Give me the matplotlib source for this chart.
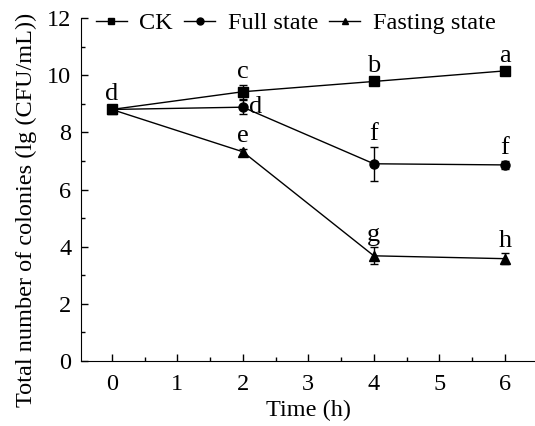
import numpy as np
import matplotlib
matplotlib.use("Agg")
import matplotlib.pyplot as plt
from matplotlib.ticker import MultipleLocator
from matplotlib.lines import Line2D

plt.rcParams['font.family'] = ['Liberation Serif', 'DejaVu Serif']
plt.rcParams['mathtext.fontset'] = 'stix'

time = [0, 2, 4, 6]
ck = [8.8, 9.42, 9.78, 10.15]
ck_err = [0.12, 0.25, 0.12, 0.08]
full = [8.8, 8.88, 6.9, 6.86]
full_err = [0.12, 0.25, 0.6, 0.15]
fast = [8.8, 7.32, 3.68, 3.58]
fast_err = [0.12, 0.1, 0.3, 0.2]

ck_labels = ['d', 'c', 'b', 'a']
full_labels = ['', 'd', 'f', 'f']
fast_labels = ['', 'e', 'g', 'h']

fig = plt.figure(figsize=(5.35, 4.26), dpi=100)
ax = fig.add_axes([81/535, 1-361/426, 454/535, 343/426])

kw = dict(color='black', lw=1.0, capsize=3, elinewidth=1.0, capthick=1.0, markersize=6.5)
ax.errorbar(time, ck, yerr=ck_err, marker='s', **kw)
ax.errorbar(time, full, yerr=full_err, marker='o', **kw)
ax.errorbar(time, fast, yerr=fast_err, marker='^', **kw)

fs = 17.5
lfs = 19
for x, y, e, t in zip(time, ck, ck_err, ck_labels):
    ax.text(x, y + e + 0.05, t, ha='center', va='bottom', fontsize=lfs)
for x, y, e, t in zip(time, full, full_err, full_labels):
    if not t:
        continue
    if x == 2:
        ax.text(x + 0.1, y + 0.0, t, ha='left', va='center', fontsize=lfs)
    else:
        ax.text(x, y + e + 0.05, t, ha='center', va='bottom', fontsize=lfs)
for x, y, e, t in zip(time, fast, fast_err, fast_labels):
    if t:
        ax.text(x, y + e + 0.05, t, ha='center', va='bottom', fontsize=lfs)

ax.set_xlim(-0.47, 6.46)
ax.set_ylim(0, 12)
ax.xaxis.set_major_locator(MultipleLocator(1))
ax.xaxis.set_minor_locator(MultipleLocator(0.5))
ax.yaxis.set_major_locator(MultipleLocator(2))
ax.yaxis.set_minor_locator(MultipleLocator(1))
ax.tick_params(which='both', direction='in', labelsize=fs, width=1.0)
ax.tick_params(which='major', length=5)
ax.tick_params(which='minor', length=3)
ax.tick_params(axis='x', pad=9)
ax.tick_params(axis='y', pad=7)
ax.spines['top'].set_visible(False)
ax.spines['right'].set_visible(False)
ax.set_xlabel('Time (h)', fontsize=fs, labelpad=4)
ax.set_ylabel('Total number of colonies (lg (CFU/mL))', fontsize=fs)
ax.yaxis.set_label_coords(-0.097, 0.44)

handles = [Line2D([], [], color='black', lw=1.0, marker=m, markersize=5) for m in ['s', 'o', '^']]
ax.legend(handles, ['CK', 'Full state', 'Fasting state'], loc='center',
          bbox_to_anchor=(0.4725, 1.0 - 5/343), ncol=3, frameon=False,
          fontsize=fs, handlelength=1.3, handletextpad=0.5, columnspacing=0.45,
          borderaxespad=0, borderpad=0)

fig.savefig('out.png', dpi=100)
